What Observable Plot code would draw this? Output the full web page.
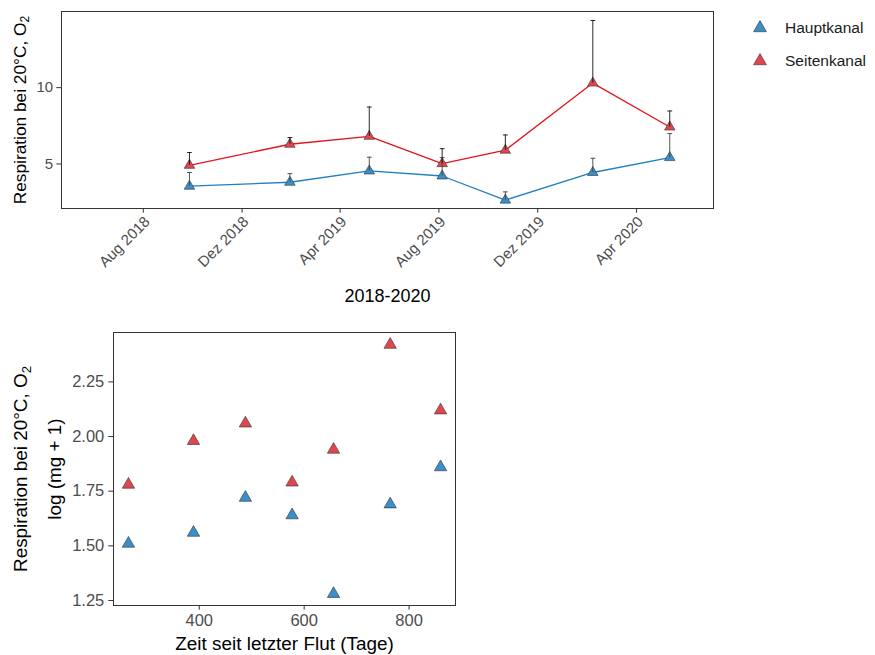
<!DOCTYPE html>
<html>
<head>
<meta charset="utf-8">
<script src="https://cdn.jsdelivr.net/npm/d3@7"></script>
<script src="https://cdn.jsdelivr.net/npm/@observablehq/plot@0.6"></script>
<style>
  html, body { margin: 0; padding: 0; background: #fff; }
  #chart { position: relative; width: 875px; height: 655px; font-family: 'Liberation Sans', Arial, Helvetica, sans-serif; }
  #chart > svg, #chart > div { position: absolute; }
</style>
</head>
<body>
<div id="chart"></div>
<script>
// Respiration at 20 °C (mg O2), main channel vs. side channel
const seriesNames = ["Hauptkanal", "Seitenkanal"];
const fillColors = ["#3a8fc9", "#df4750"];
const lineColors = ["#1f7fc1", "#e3141c"];

// sampling dates
const sampleDates = ["2018-09-27", "2019-01-29", "2019-05-07", "2019-08-05", "2019-10-22", "2020-02-07", "2020-05-12"];
// means and upper error bar ends (mean + SE)
const hauptMean = [3.54, 3.80, 4.54, 4.21, 2.63, 4.44, 5.42];
const hauptUpper = [4.44, 4.37, 5.44, 5.42, 3.17, 5.37, 6.99];
const seitenMean = [4.91, 6.29, 6.81, 5.02, 5.90, 10.30, 7.42];
const seitenUpper = [5.75, 6.73, 8.73, 6.00, 6.90, 14.40, 8.47];

// days since the last flood and log(mg + 1)
const daysSinceFlood = [265, 389, 488, 577, 656, 764, 860];
const hauptLog = [1.51, 1.56, 1.72, 1.64, 1.28, 1.69, 1.86];
const seitenLog = [1.78, 1.98, 2.06, 1.79, 1.94, 2.42, 2.12];

// axis ticks
const dateTicks = ["2018-08-01", "2018-12-01", "2019-04-01", "2019-08-01", "2019-12-01", "2020-04-01"];
const dateTickLabels = ["Aug 2018", "Dez 2018", "Apr 2019", "Aug 2019", "Dez 2019", "Apr 2020"];
const topYTicks = [5, 10];
const bottomXTicks = [400, 600, 800];
const bottomYTicks = [1.25, 1.5, 1.75, 2.0, 2.25];

const yTitle = "Respiration bei 20°C, O₂";
const yTitle2 = "log (mg + 1)";
const topXTitle = "2018-2020";
const bottomXTitle = "Zeit seit letzter Flut (Tage)";

const font = "'Liberation Sans', Arial, Helvetica, sans-serif";
const tickGrey = "#4d4d4d";
const frameGrey = "#333333";

const means = [hauptMean, seitenMean];
const uppers = [hauptUpper, seitenUpper];
const logs = [hauptLog, seitenLog];

const timeRows = seriesNames.flatMap((s, k) => sampleDates.map((d, i) => ({
  series: s, k, date: new Date(d), mean: means[k][i], upper: uppers[k][i]
})));
const floodRows = seriesNames.flatMap((s, k) => daysSinceFlood.map((t, i) => ({
  series: s, k, days: t, value: logs[k][i]
})));

const tickDateObjs = dateTicks.map(d => new Date(d));
const tickLabelByTime = new Map(tickDateObjs.map((d, i) => [+d, dateTickLabels[i]]));

// horizontal cap for the error bars
const capSymbol = {
  draw(context, size) {
    const w = Math.sqrt(size / Math.PI);
    context.moveTo(-w, 0);
    context.lineTo(w, 0);
  }
};

const chart = document.getElementById("chart");

const timePlot = Plot.plot({
  width: 875,
  height: 310,
  marginLeft: 61,
  marginRight: 162,
  marginTop: 11,
  marginBottom: 102,
  style: { fontFamily: font, background: "transparent", overflow: "visible" },
  x: { type: "utc", domain: [new Date("2018-04-22"), new Date("2020-07-05")] },
  y: { domain: [2.08, 14.99] },
  marks: [
    // date axis: tick marks, then rotated labels nudged down-right
    Plot.axisX({ ticks: tickDateObjs, tickSize: 4.7, fill: "none", stroke: frameGrey, label: null }),
    Plot.axisX({
      ticks: tickDateObjs, tickFormat: d => tickLabelByTime.get(+d), tickRotate: -45,
      tickSize: 4.7, tickPadding: 3, dx: 4, dy: 3, fontSize: 15, fill: tickGrey, stroke: "none", label: null
    }),
    Plot.axisY({
      ticks: topYTicks, tickSize: 4.7, tickPadding: 3.7, fontSize: 15,
      fill: tickGrey, stroke: frameGrey, label: null
    }),
    ...seriesNames.map((s, k) => Plot.line(timeRows.filter(d => d.k === k), {
      x: "date", y: "mean", stroke: lineColors[k], strokeWidth: 1.3
    })),
    ...seriesNames.map((s, k) => Plot.dot(timeRows.filter(d => d.k === k), {
      x: "date", y: "mean", symbol: "triangle", r: 3.9,
      fill: fillColors[k], stroke: "#333", strokeWidth: 0.6
    })),
    ...seriesNames.map((s, k) => Plot.ruleX(timeRows.filter(d => d.k === k), {
      x: "date", y1: "mean", y2: "upper", stroke: k === 0 ? "#444" : "#111", strokeWidth: 0.9
    })),
    ...seriesNames.map((s, k) => Plot.dot(timeRows.filter(d => d.k === k), {
      x: "date", y: "upper", symbol: capSymbol, r: 2.4,
      fill: "none", stroke: k === 0 ? "#444" : "#111", strokeWidth: 0.9
    })),
    Plot.frame({ stroke: frameGrey, strokeWidth: 1 }),
    Plot.text([yTitle], {
      frameAnchor: "left", textAnchor: "middle", lineAnchor: "middle",
      dx: -41.5, rotate: -90, fontSize: 17.3, fill: "#000"
    }),
    Plot.text([topXTitle], {
      frameAnchor: "bottom", lineAnchor: "middle", dy: 88, fontSize: 18, fill: "#000"
    })
  ]
});
timePlot.style.left = "0px";
timePlot.style.top = "0px";
chart.appendChild(timePlot);

const floodPlot = Plot.plot({
  width: 470,
  height: 345,
  marginLeft: 113,
  marginRight: 15,
  marginTop: 22,
  marginBottom: 50,
  style: { fontFamily: font, background: "transparent", overflow: "visible" },
  x: { domain: [236.5, 888.5] },
  y: { domain: [1.227, 2.476] },
  marks: [
    Plot.axisX({
      ticks: bottomXTicks, tickSize: 4.7, tickPadding: 3.7, fontSize: 16.5,
      fill: tickGrey, stroke: frameGrey, label: null
    }),
    Plot.axisY({
      ticks: bottomYTicks, tickFormat: d3.format(".2f"), tickSize: 4.7, tickPadding: 4.5, fontSize: 16.5,
      fill: tickGrey, stroke: frameGrey, label: null
    }),
    ...seriesNames.map((s, k) => Plot.dot(floodRows.filter(d => d.k === k), {
      x: "days", y: "value", symbol: "triangle", r: 4.6,
      fill: fillColors[k], stroke: "#333", strokeWidth: 0.6
    })),
    Plot.frame({ stroke: frameGrey, strokeWidth: 1 }),
    Plot.text([yTitle], {
      frameAnchor: "left", textAnchor: "middle", lineAnchor: "middle",
      dx: -92.5, rotate: -90, fontSize: 18.9, fill: "#000"
    }),
    Plot.text([yTitle2], {
      frameAnchor: "left", textAnchor: "middle", lineAnchor: "middle",
      dx: -59, rotate: -90, fontSize: 18.9, fill: "#000"
    }),
    Plot.text([bottomXTitle], {
      frameAnchor: "bottom", lineAnchor: "middle", dy: 38, fontSize: 18.9, fill: "#000"
    })
  ]
});
floodPlot.style.left = "0px";
floodPlot.style.top = "310px";
chart.appendChild(floodPlot);

// render the "2" of O2 as a subscript
d3.select(chart).selectAll("text").each(function () {
  const t = this.textContent;
  if (t.endsWith("O₂") && this.childElementCount === 0) {
    this.textContent = t.slice(0, -1);
    d3.select(this).append("tspan").attr("font-size", "0.7em").attr("dy", "0.3em").text("2");
  }
});

// legend
const legend = d3.select(chart).append("svg")
  .attr("width", 875).attr("height", 90)
  .style("left", "0px").style("top", "0px")
  .style("font-family", font);
const triPath = d3.symbol(d3.symbolTriangle, Math.PI * 4.8 * 4.8)();
const rows = legend.selectAll("g").data(seriesNames).join("g")
  .attr("transform", (d, i) => `translate(760,${28 + i * 33})`);
rows.append("path").attr("d", triPath)
  .attr("fill", (d, i) => fillColors[i]).attr("stroke", "#333").attr("stroke-width", 0.6);
rows.append("text").attr("x", 25).attr("dy", "0.35em")
  .attr("font-size", 15.5).attr("fill", "#1a1a1a").text(d => d);
</script>
</body>
</html>
